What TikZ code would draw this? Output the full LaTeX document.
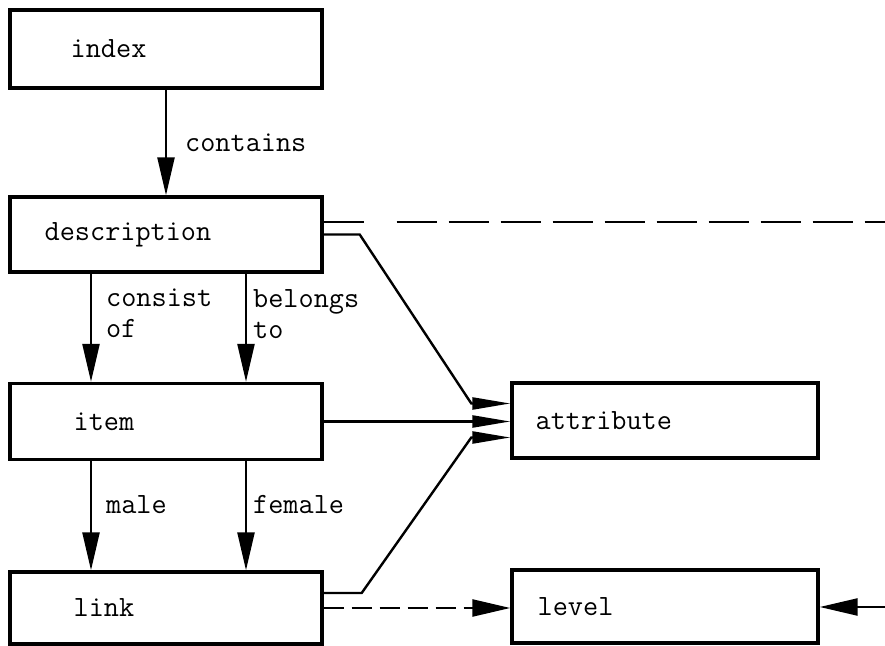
\documentclass[tikz,border=0pt]{standalone}
\usetikzlibrary{arrows.meta,positioning,calc}
\begin{document}
\begin{tikzpicture}[x=0.5pt,y=-0.5pt,
  box/.style={draw,line width=1.7pt,minimum width=156pt,minimum height=38pt,inner sep=0pt},
  rbox/.style={box,minimum width=153pt,minimum height=37.5pt},
  txt/.style={inner sep=0pt,font=\fontsize{14.7}{15.5}\selectfont\ttfamily},
  lbl/.style={txt,align=left},
  conn/.style={line width=1.2pt},
  arr/.style={conn,-{Triangle[length=19pt,width=8.5pt]}},
  arrsm/.style={conn,-{Triangle[length=19pt,width=6pt]}}]
\useasboundingbox (0,0) rectangle (885,646);
% left column
\node[box,minimum height=39pt] (index) at (166,49) {};
\node[box,minimum height=37.5pt] (description) at (166,234.5) {};
\node[box] (item) at (166,421.5) {};
\node[box,minimum height=36pt] (link) at (166,608) {};
% right column
\node[rbox] (attribute) at (665,420.5) {};
\node[rbox,minimum height=36.5pt] (level) at (665,606.5) {};
% texts in the boxes
\node[txt,right=31pt of index.west] (index-t) {index};
\node[txt,right=18pt of description.west] (description-t) {description};
\node[txt,right=32.5pt of item.west] (item-t) {item};
\node[txt,right=32.5pt of link.west] (link-t) {link};
\node[txt,right=12.5pt of attribute.west] (attribute-t) {attribute};
\node[txt,right=13.5pt of level.west] (level-t) {level};
% vertical arrows
\draw[arr] (index) -- (description) node[lbl,midway,right=9pt] (contains) {contains};
\draw[arr] ($(description.south)+(-75,0)$) -- ($(item.north)+(-75,0)$)
  node[lbl,pos=0.37,right=7pt] (consist) {consist\\of};
\draw[arr] ($(description.south)+(80,0)$) -- ($(item.north)+(80,0)$)
  node[lbl,pos=0.37,right=3pt] (belongs) {belongs\\to};
\draw[arr] ($(item.south)+(-75,0)$) -- ($(link.north)+(-75,0)$)
  node[lbl,pos=0.4,right=7pt] (male) {male};
\draw[arr] ($(item.south)+(80,0)$) -- ($(link.north)+(80,0)$)
  node[lbl,pos=0.4,right=3pt] (female) {female};
% into attribute
\draw[arrsm] (description.east) -- ++(36,0) -- ($(attribute.west)+(-39,-17)$) -- ($(attribute.west)+(0,-17)$);
\draw[arrsm] (item.east) -- (item.east -| attribute.west);
\draw[arrsm] ($(link.east)+(0,-15)$) -- ++(38,0) -- ($(attribute.west)+(-39,17)$) -- ($(attribute.west)+(0,17)$);
% description off to the right
\coordinate (dash-end) at (885,222);
\draw[conn] (description.east |- dash-end) -- ++(40,0) coordinate (d1);
\draw[conn,dash pattern=on 20pt off 6pt] ($(d1)+(33,0)$) -- (dash-end);
% level
\draw[arr,dash pattern=on 10pt off 4pt] (link.east) -- (link.east -| level.west);
\coordinate (level-in) at (885,607);
\draw[arr] (level-in) -- (level.east |- level-in);
\end{tikzpicture}
\end{document}
